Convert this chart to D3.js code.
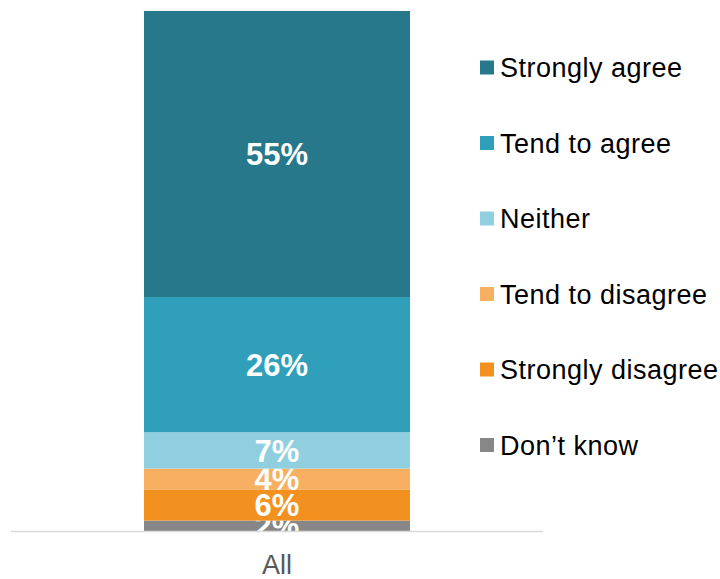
<!DOCTYPE html>
<html>
<head>
<meta charset="utf-8">
<script src="https://cdn.jsdelivr.net/npm/d3@7"></script>
<style>
  body { margin: 0; background: #fff; }
  svg { display: block; font-family: "Liberation Sans", Arial, sans-serif; }
</style>
</head>
<body>
<script>
const WIDTH = 720;
const HEIGHT = 579;

const categories = ["All"];
const responses = ["Strongly agree", "Tend to agree", "Neither", "Tend to disagree", "Strongly disagree", "Don\u2019t know"];
const values = [55, 26, 7, 4, 6, 2];
const colors = ["#26788a", "#2f9fba", "#8fcfe0", "#f7b062", "#f39120", "#878787"];

const svg = d3.select("body")
	.append("svg")
	.attr("width", WIDTH)
	.attr("height", HEIGHT);

// one category, bar sits between 144 and 410
const x = d3.scaleBand().domain(categories).range([144, 410]);
const y = d3.scaleLinear().domain([0, 100]).range([531, 11]);

// stack: last response at the bottom
const row = { cat: categories[0] };
responses.forEach((r, i) => { row[r] = values[i]; });
const stack = d3.stack().keys(responses.slice().reverse())([row]);

const layers = svg.append("g")
	.selectAll("g")
	.data(stack)
	.enter()
	.append("g")
	.attr("fill", d => colors[responses.indexOf(d.key)]);

layers.selectAll("rect")
	.data(d => d)
	.enter()
	.append("rect")
	.attr("x", d => x(d.data.cat))
	.attr("width", x.bandwidth())
	.attr("y", d => y(d[1]))
	.attr("height", d => y(d[0]) - y(d[1]));

// axis line
svg.append("line")
	.attr("x1", 11).attr("x2", 543)
	.attr("y1", y(0) + 0.5).attr("y2", y(0) + 0.5)
	.attr("stroke", "#d9d9d9")
	.attr("stroke-width", 1.5);

// category label
svg.append("text")
	.attr("x", x(categories[0]) + x.bandwidth() / 2)
	.attr("y", 574)
	.attr("text-anchor", "middle")
	.attr("font-size", 27)
	.attr("fill", "#595959")
	.text(categories[0]);

// value labels
layers.selectAll("text")
	.data(d => d)
	.enter()
	.append("text")
	.attr("x", d => x(d.data.cat) + x.bandwidth() / 2)
	.attr("y", d => (y(d[0]) + y(d[1])) / 2)
	.attr("dy", "0.36em")
	.attr("text-anchor", "middle")
	.attr("font-size", 31)
	.attr("font-weight", "bold")
	.attr("fill", "#fff")
	.text(d => (d[1] - d[0]) + "%");

// legend
const legend = svg.append("g")
	.selectAll("g")
	.data(responses)
	.enter()
	.append("g")
	.attr("transform", (d, i) => `translate(480, ${67.5 + i * 75.5})`);

legend.append("rect")
	.attr("x", 0)
	.attr("y", -7)
	.attr("width", 14)
	.attr("height", 14)
	.attr("fill", (d, i) => colors[i]);

legend.append("text")
	.attr("x", 20)
	.attr("y", 0)
	.attr("dy", "0.36em")
	.attr("font-size", 27)
	.attr("letter-spacing", 0.5)
	.attr("fill", "#000")
	.text(d => d);
</script>
</body>
</html>
